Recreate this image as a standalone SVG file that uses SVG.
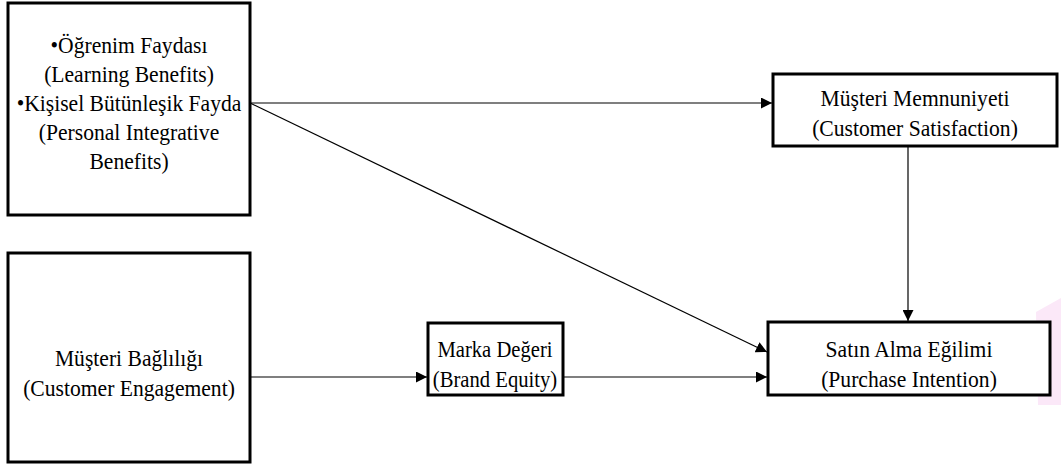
<svg xmlns="http://www.w3.org/2000/svg" width="1061" height="468" viewBox="0 0 1061 468">
  <style>
    .box { fill: #ffffff; stroke: #000000; stroke-width: 3; }
    .lbl { font-family: "Liberation Serif", "Times New Roman", serif; font-size: 24px; fill: #000000; text-anchor: middle; }
    .edge { stroke: #000000; stroke-width: 1.2; fill: none; marker-end: url(#arrow); }
  </style>
  <defs>
    <marker id="arrow" viewBox="0 0 10 10" refX="10" refY="5" markerWidth="11" markerHeight="11" markerUnits="userSpaceOnUse" orient="auto">
      <path d="M0,0 L10,5 L0,10 Z" fill="#000000"/>
    </marker>
  </defs>

  <rect width="1061" height="468" fill="#ffffff"/>
  <!-- faint pink tint at the right margin -->
  <path d="M1036,312 L1061,298 L1061,405 L1038,405 Z" fill="#fbe8f8"/>

  <g id="connectors">
    <line class="edge" x1="250" y1="103" x2="772" y2="103"/>
    <line class="edge" x1="250" y1="103" x2="767" y2="352"/>
    <line class="edge" x1="908" y1="146" x2="908" y2="321"/>
    <line class="edge" x1="250" y1="377" x2="427" y2="377"/>
    <line class="edge" x1="563" y1="377" x2="767" y2="377"/>
  </g>

  <g id="benefits">
    <rect class="box" x="8" y="3" width="242" height="212"/>
    <g transform="translate(129,0) scale(0.9,1)">
      <text class="lbl" x="0" y="53">•Öğrenim Faydası</text>
      <text class="lbl" x="0" y="82">(Learning Benefits)</text>
      <text class="lbl" x="0" y="111">•Kişisel Bütünleşik Fayda</text>
      <text class="lbl" x="0" y="140">(Personal Integrative</text>
      <text class="lbl" x="0" y="169">Benefits)</text>
    </g>
  </g>

  <g id="engagement">
    <rect class="box" x="8" y="253" width="242" height="209"/>
    <g transform="translate(129,0) scale(0.9,1)">
      <text class="lbl" x="0" y="366">Müşteri Bağlılığı</text>
      <text class="lbl" x="0" y="396">(Customer Engagement)</text>
    </g>
  </g>

  <g id="satisfaction">
    <rect class="box" x="773" y="74" width="284" height="72"/>
    <g transform="translate(915,0) scale(0.9,1)">
      <text class="lbl" x="0" y="106">Müşteri Memnuniyeti</text>
      <text class="lbl" x="0" y="136">(Customer Satisfaction)</text>
    </g>
  </g>

  <g id="brand-equity">
    <rect class="box" x="428" y="323" width="135" height="72"/>
    <g transform="translate(495,0) scale(0.86,1)">
      <text class="lbl" x="0" y="357">Marka Değeri</text>
      <text class="lbl" x="0" y="387">(Brand Equity)</text>
    </g>
  </g>

  <g id="purchase-intention">
    <rect class="box" x="768" y="322" width="282" height="73"/>
    <g transform="translate(909,0) scale(0.9,1)">
      <text class="lbl" x="0" y="357">Satın Alma Eğilimi</text>
      <text class="lbl" x="0" y="387">(Purchase Intention)</text>
    </g>
  </g>
</svg>
